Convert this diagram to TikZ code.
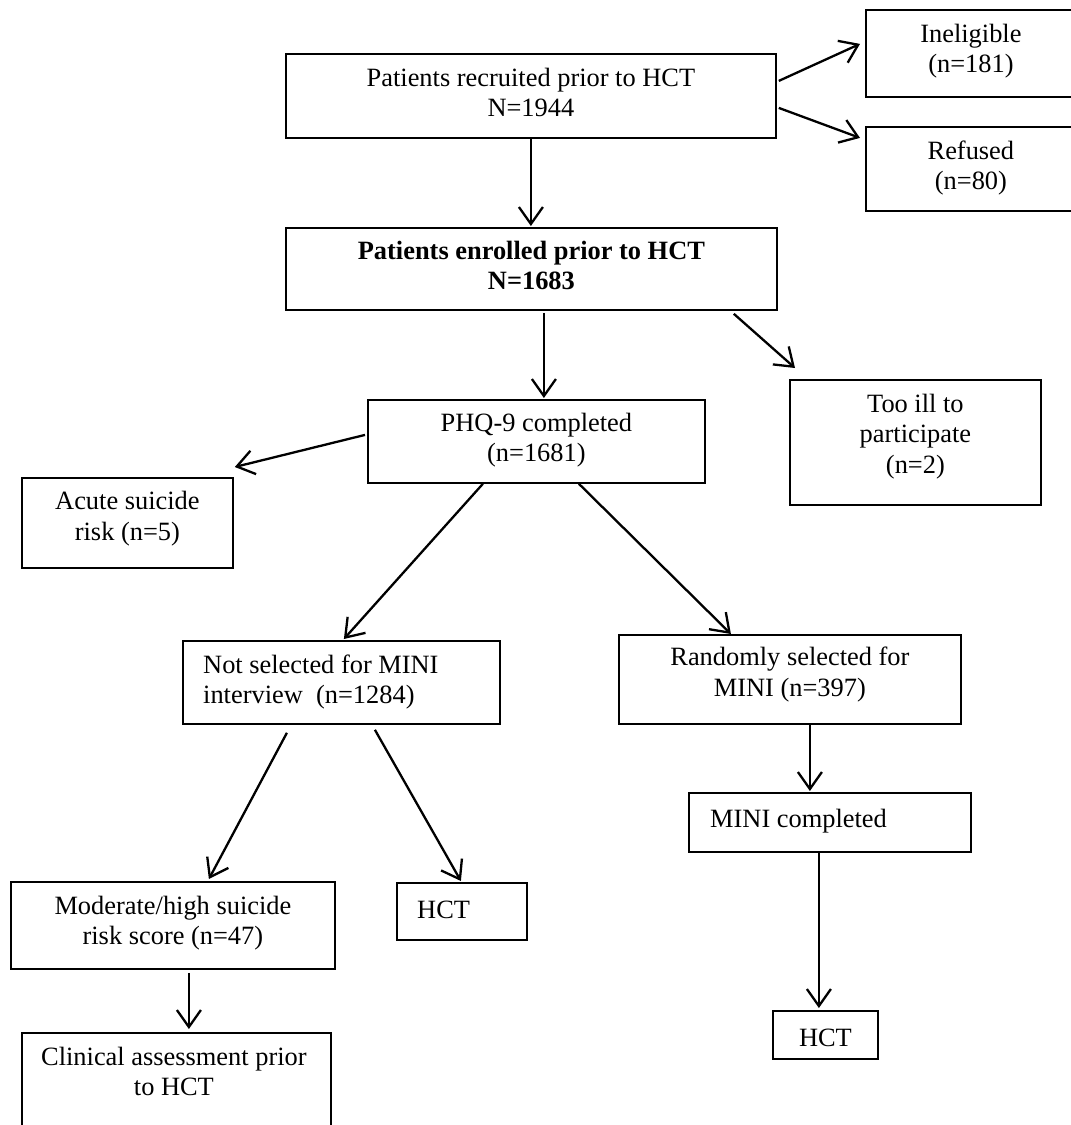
\documentclass[tikz,border=0pt]{standalone}
\usepackage{fontspec}
\setmainfont{Liberation Serif}
\usetikzlibrary{arrows.meta,calc}
\begin{document}
\begin{tikzpicture}[x=1pt,y=-1pt,
  box/.style={draw, line width=1.8pt, rectangle, inner sep=0pt, anchor=north west},
  txt/.style={inner sep=0pt, align=center, anchor=north, font=\fontsize{26.4}{30.5}\selectfont, execute at begin node=\strut},
  txtl/.style={txt, align=left, anchor=north west},
  arr/.style={line width=2.3pt, -{Straight Barb[length=17pt,width=24pt,line width=2.3pt]}}]
\useasboundingbox (0,0) rectangle (1071,1125);
\fill[white] (0,0) rectangle (1071,1125);
\clip (0,0) rectangle (1071,1125);

% boxes
\node[box, minimum width=490pt, minimum height=84pt] (rec) at (285,53) {};
\node[box, minimum width=210pt, minimum height=87pt] (inel) at (865,9) {};
\node[box, minimum width=210pt, minimum height=84pt] (ref) at (865,126) {};
\node[box, minimum width=491pt, minimum height=82pt] (enr) at (285,227) {};
\node[box, minimum width=251pt, minimum height=125pt] (ill) at (789,379) {};
\node[box, minimum width=337pt, minimum height=83pt] (phq) at (367,399) {};
\node[box, minimum width=211pt, minimum height=90pt] (acute) at (21,477) {};
\node[box, minimum width=317pt, minimum height=83pt] (notsel) at (182,640) {};
\node[box, minimum width=342pt, minimum height=89pt] (rand) at (618,634) {};
\node[box, minimum width=282pt, minimum height=59pt] (mini) at (688,792) {};
\node[box, minimum width=324pt, minimum height=87pt] (mod) at (10,881) {};
\node[box, minimum width=130pt, minimum height=57pt] (hctl) at (396,882) {};
\node[box, minimum width=309pt, minimum height=110pt] (clin) at (21,1032) {};
\node[box, minimum width=105pt, minimum height=48pt] (hctr) at (772,1010) {};

% texts (first baseline about 36px below box top)
\node[txt] (trec) at ($(rec.north)+(0,14.6)$) {Patients recruited prior to HCT\\N=1944};
\node[txt] (tinel) at ($(inel.north)+(0,14.6)$) {Ineligible\\(n=181)};
\node[txt] (tref) at ($(ref.north)+(0,14.6)$) {Refused\\(n=80)};
\node[txt, font=\fontsize{26.4}{30.5}\selectfont\bfseries] (tenr) at ($(enr.north)+(0,13.6)$) {Patients enrolled prior to HCT\\N=1683};
\node[txt] (till) at ($(ill.north)+(0,14.6)$) {Too ill to\\participate\\(n=2)};
\node[txt] (tphq) at ($(phq.north)+(0,13.6)$) {PHQ-9 completed\\(n=1681)};
\node[txt] (tacute) at ($(acute.north)+(0,14.1)$) {Acute suicide\\risk (n=5)};
\node[txtl] (tnotsel) at ($(notsel.north west)+(21,14.6)$) {Not selected for MINI\\interview~~(n=1284)};
\node[txt] (trand) at ($(rand.north)+(0,13.1)$) {Randomly selected for\\MINI (n=397)};
\node[txtl] (tmini) at ($(mini.north west)+(22,13.6)$) {MINI completed};
\node[txt] (tmod) at ($(mod.north)+(0,14.6)$) {Moderate/high suicide\\risk score (n=47)};
\node[txtl] (thctl) at ($(hctl.north west)+(21,14.6)$) {HCT};
\node[txt] (tclin) at ($(clin.north)+(-2.5,14.6)$) {Clinical assessment prior\\to HCT};
\node[txt] (thctr) at ($(hctr.north)+(0,15.1)$) {HCT};

% connectors
\draw[arr] ($(rec.east)+(2,-15)$) -- ($(inel.west)+(-5,-9.5)$);
\draw[arr] ($(rec.east)+(2,12)$) -- ($(ref.west)+(-5,-31)$);
\draw[arr] (rec.south) -- ($(enr.north)+(-0.5,-1)$);
\draw[arr] ($(enr.south)+(12.5,2)$) -- ($(phq.north)+(7.5,-1)$);
\draw[arr] ($(enr.south east)+(-44,3)$) -- ($(ill.north west)+(6,-11)$);
\draw[arr] ($(phq.west)+(-2,-6.5)$) -- ($(acute.north east)+(1,-10)$);
\draw[arr] ($(phq.south)+(-53.5,0)$) -- ($(notsel.north)+(2.5,-1)$);
\draw[arr] ($(phq.south)+(42.5,0)$) -- ($(rand.north)+(-59,0)$);
\draw[arr] ($(rand.south)+(20,0)$) -- ($(mini.north)+(-20,-1)$);
\draw[arr] ($(notsel.south)+(-54.5,8)$) -- ($(mod.north)+(36,-2)$);
\draw[arr] ($(notsel.south)+(33.5,5)$) -- ($(hctl.north)+(-1,-1)$);
\draw[arr] ($(mod.south)+(16,3)$) -- ($(clin.north)+(12.5,-3)$);
\draw[arr] ($(mini.south)+(-11,0)$) -- ($(hctr.north)+(-6.5,-2)$);
\end{tikzpicture}
\end{document}
